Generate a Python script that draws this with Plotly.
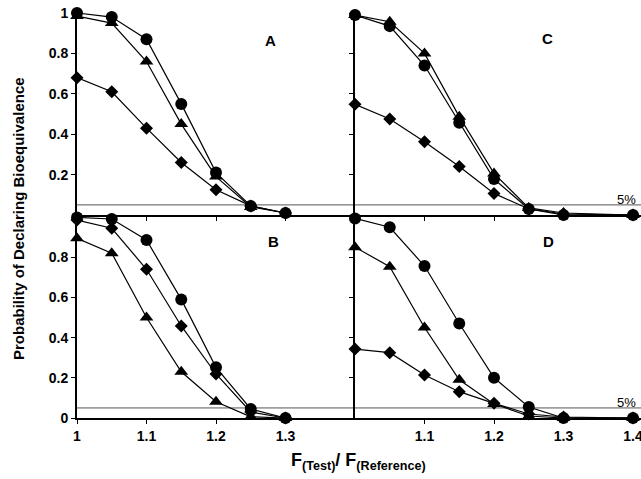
import plotly.graph_objects as go

x_left = [1.0, 1.05, 1.1, 1.15, 1.2, 1.25, 1.3]
x_right = [1.0, 1.05, 1.1, 1.15, 1.2, 1.25, 1.3, 1.4]

A_circle = [1.0, 0.98, 0.87, 0.55, 0.21, 0.045, 0.01]
A_triangle = [0.985, 0.95, 0.76, 0.45, 0.19, 0.04, 0.01]
A_diamond = [0.68, 0.61, 0.43, 0.26, 0.125, 0.045, 0.01]

C_circle = [0.99, 0.935, 0.74, 0.457, 0.178, 0.03, 0.0, 0.0]
C_triangle = [0.99, 0.957, 0.80, 0.487, 0.206, 0.035, 0.01, 0.0]
C_diamond = [0.548, 0.475, 0.363, 0.24, 0.107, 0.03, 0.005, 0.0]

B_circle = [0.998, 0.99, 0.886, 0.59, 0.252, 0.045, 0.0]
B_triangle = [0.894, 0.82, 0.50, 0.23, 0.081, 0.006, 0.0]
B_diamond = [0.985, 0.944, 0.74, 0.458, 0.219, 0.03, 0.0]

D_circle = [0.993, 0.949, 0.756, 0.47, 0.20, 0.055, 0.0, 0.0]
D_triangle = [0.85, 0.753, 0.45, 0.19, 0.07, 0.01, 0.0, 0.0]
D_diamond = [0.343, 0.325, 0.214, 0.131, 0.073, 0.02, 0.005, 0.0]

y_ticks_top = [0.2, 0.4, 0.6, 0.8, 1]
y_ticks_bottom = [0, 0.2, 0.4, 0.6, 0.8]
x_ticks_left = [1, 1.1, 1.2, 1.3]
x_ticks_right = [1.1, 1.2, 1.3, 1.4]
panel_letters = ["A", "B", "C", "D"]
threshold = 0.05
threshold_label = "5%"

W, H = 641, 479
FONT = "Liberation Sans, Arial, sans-serif"

def px(x):
    return x / W

def py(y):
    return (H - y) / H

fig = go.Figure()

panels = [
    ("x", "y", x_left, A_circle, A_triangle, A_diamond),
    ("x2", "y2", x_left, B_circle, B_triangle, B_diamond),
    ("x3", "y3", x_right, C_circle, C_triangle, C_diamond),
    ("x4", "y4", x_right, D_circle, D_triangle, D_diamond),
]

for xa, ya, xs, circ, tri, dia in panels:
    for ys, sym, sz in [(dia, "diamond", 10), (tri, "triangle-up", 12), (circ, "circle", 12)]:
        fig.add_trace(go.Scatter(
            x=xs, y=ys, xaxis=xa, yaxis=ya, mode="lines+markers",
            line=dict(color="black", width=1.2),
            marker=dict(symbol=sym, size=sz, color="black", line=dict(width=0)),
            cliponaxis=False, showlegend=False,
        ))

left_dom = [px(77), px(355)]
right_dom = [px(355), px(641)]
top_dom = [py(215), py(13)]
bot_dom = [py(418), py(215)]
right_range = [1.0, 1.0 + 0.1 * (641 - 355) / 69.5]
bot_range = [0, (418 - 215) / 201.0]

tickfont = dict(family=FONT, size=14, color="black", weight="bold")
common_x = dict(showline=True, linecolor="black", linewidth=2, showgrid=False, zeroline=False,
                ticks="outside", ticklen=4, tickwidth=1, tickcolor="black", tickfont=tickfont,
                automargin=False, ticklabeloverflow="allow")
common_y = dict(showline=True, linecolor="black", linewidth=2, showgrid=False, zeroline=False,
                ticks="outside", ticklen=4, tickwidth=1, tickcolor="black", tickfont=tickfont,
                automargin=False, ticklabeloverflow="allow")

fig.update_layout(
    template="none",
    width=W, height=H, margin=dict(l=0, r=0, t=0, b=0, pad=0), autosize=False,
    paper_bgcolor="white", plot_bgcolor="white",
    xaxis=dict(domain=left_dom, range=[1.0, 1.4], anchor="y", tickvals=x_ticks_left, showticklabels=False, **common_x),
    yaxis=dict(domain=top_dom, range=[0, 1.0], anchor="x", tickvals=y_ticks_top, **common_y),
    xaxis2=dict(domain=left_dom, range=[1.0, 1.4], anchor="y2", tickvals=x_ticks_left, **common_x),
    yaxis2=dict(domain=bot_dom, range=bot_range, anchor="x2", tickvals=y_ticks_bottom, **common_y),
    xaxis3=dict(domain=right_dom, range=right_range, anchor="y3", tickvals=x_ticks_right, showticklabels=False, **common_x),
    yaxis3=dict(domain=top_dom, range=[0, 1.0], anchor="x3", tickvals=y_ticks_top, showticklabels=False, **common_y),
    xaxis4=dict(domain=right_dom, range=right_range, anchor="y4", tickvals=x_ticks_right, **common_x),
    yaxis4=dict(domain=bot_dom, range=bot_range, anchor="x4", tickvals=y_ticks_bottom, showticklabels=False, **common_y),
)

for ya in ["y", "y2"]:
    fig.add_shape(type="line", xref="paper", yref=ya, x0=px(77), x1=1.0, y0=threshold, y1=threshold,
                  line=dict(color="#555555", width=1), layer="below")

annots = []
for txt, x, y in zip(panel_letters, [270, 273, 547, 548], [40, 241, 38, 241]):
    annots.append(dict(text=txt, x=px(x), y=py(y), xref="paper", yref="paper", showarrow=False,
                       font=dict(family=FONT, size=15, color="black", weight="bold"),
                       xanchor="center", yanchor="middle"))
for y in [199, 402]:
    annots.append(dict(text=threshold_label, x=px(638), y=py(y), xref="paper", yref="paper", showarrow=False,
                       font=dict(family=FONT, size=13, color="black"),
                       xanchor="right", yanchor="middle"))
annots.append(dict(text="Probability of Declaring Bioequivalence", x=px(18), y=py(219), xref="paper", yref="paper",
                   showarrow=False, textangle=-90,
                   font=dict(family=FONT, size=15, color="black", weight="bold"),
                   xanchor="center", yanchor="middle"))
annots.append(dict(text="F<sub>(Test)</sub>/ F<sub>(Reference)</sub>", x=px(358), y=py(461), xref="paper", yref="paper",
                   showarrow=False,
                   font=dict(family=FONT, size=18, color="black", weight="bold"),
                   xanchor="center", yanchor="middle"))
fig.update_layout(annotations=annots)

fig.write_html("out.html", config={"displayModeBar": False},
               post_script="document.body.style.margin='0';document.body.style.overflow='hidden';")
